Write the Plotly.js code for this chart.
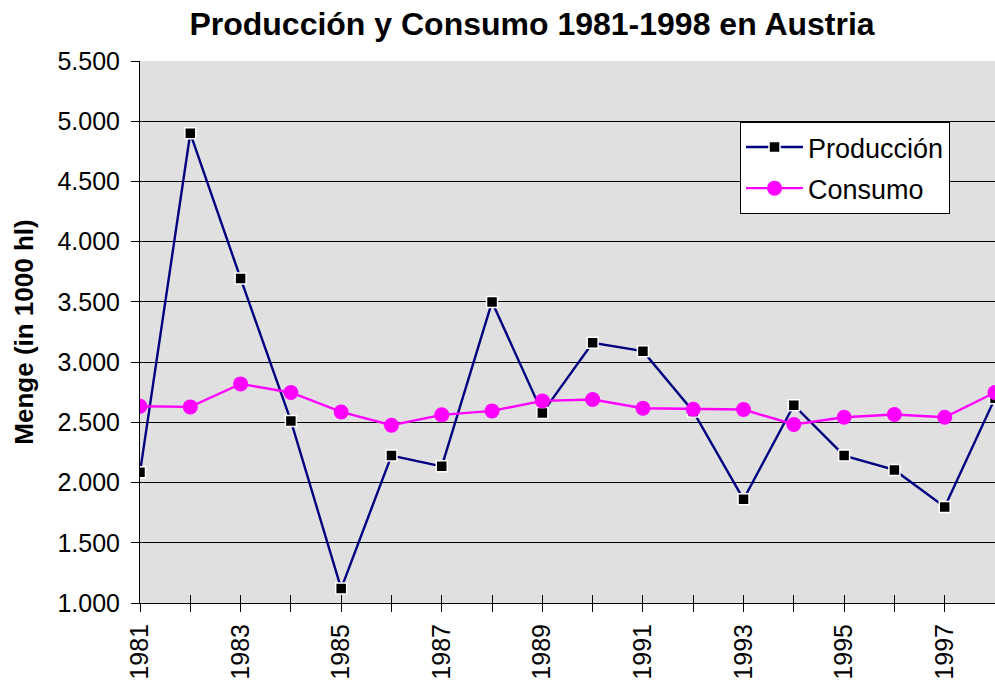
<!DOCTYPE html>
<html>
<head>
<meta charset="utf-8">
<script src="https://cdn.plot.ly/plotly-3.0.1.min.js"></script>
<style>html,body{margin:0;padding:0;background:#fff;}#chart{width:995px;height:682px;}</style>
</head>
<body>
<div id="chart"></div>
<script>
const years = [1981,1982,1983,1984,1985,1986,1987,1988,1989,1990,1991,1992,1993,1994,1995,1996,1997,1998];
const produccion = [2085,4900,3695,2512,1120,2224,2135,3500,2578,3160,3091,2590,1861,2642,2224,2105,1797,2700];
const consumo = [2634,2628,2819,2748,2586,2476,2562,2595,2678,2689,2617,2609,2606,2482,2542,2565,2542,2748];
const yTickVals = [1000,1500,2000,2500,3000,3500,4000,4500,5000,5500];
const yTickText = ['1.000','1.500','2.000','2.500','3.000','3.500','4.000','4.500','5.000','5.500'];
const xTickText = years.map((y,i) => i % 2 === 0 ? String(y) : '');

const font = 'Liberation Sans, Arial, sans-serif';
const traces = [
  {x: years, y: produccion, name: 'Producción', type: 'scatter', mode: 'lines+markers', legendgroup: 'a',
   line: {color: '#000080', width: 2.4},
   marker: {symbol: 'square', color: '#000000', size: 11, line: {color: '#ffffff', width: 1.5}}},
  {x: years, y: consumo, name: 'Consumo', type: 'scatter', mode: 'lines+markers', legendgroup: 'b',
   line: {color: '#ff00ff', width: 2.4},
   marker: {symbol: 'circle', color: '#ff00ff', size: 15}},
  {x: years, y: consumo, xaxis: 'x2', type: 'scatter', mode: 'none', showlegend: false, hoverinfo: 'skip'}
];
const layout = {
  width: 995, height: 682,
  margin: {l: 140, r: 0, t: 61, b: 79},
  paper_bgcolor: '#ffffff', plot_bgcolor: '#e0e0e0',
  font: {family: font, color: '#000'},
  title: {text: '<b>Producción y Consumo 1981-1998 en Austria</b>', font: {family: font, size: 32, color: '#000'},
          xref: 'paper', x: 0.4585, xanchor: 'center', yref: 'container', y: 0.965, yanchor: 'middle'},
  xaxis: {range: [1981, 1998], tickvals: years, ticktext: xTickText, tickangle: -90,
          ticks: 'outside', ticklen: 8, tickcolor: '#000', tickwidth: 1,
          showgrid: false, zeroline: false, showline: true, linecolor: '#000', linewidth: 1,
          tickfont: {family: font, size: 25, color: '#000'}, ticklabelstandoff: 2},
  xaxis2: {range: [1981, 1998], overlaying: 'x', tickvals: years, ticks: 'inside', ticklen: 8,
           tickcolor: '#000', showticklabels: false, showgrid: false, zeroline: false, showline: false},
  yaxis: {range: [1000, 5500], tickvals: yTickVals, ticktext: yTickText,
          ticks: 'outside', ticklen: 8, tickcolor: '#000', tickwidth: 1,
          showgrid: true, gridcolor: '#000', gridwidth: 1, zeroline: false,
          showline: true, linecolor: '#000', linewidth: 1, mirror: false,
          tickfont: {family: font, size: 25, color: '#000'}, ticklabelstandoff: 6,
          title: {text: '<b>Menge (in 1000 hl)</b>', font: {family: font, size: 26, color: '#000'}, standoff: 16}},
  legend: {x: 0.7018, y: 0.8875, xanchor: 'left', yanchor: 'top', bgcolor: '#ffffff',
           bordercolor: '#000', borderwidth: 1, itemwidth: 57, traceorder: 'grouped', tracegroupgap: 3,
           font: {family: font, size: 27, color: '#000'}},
  showlegend: true
};
Plotly.newPlot('chart', traces, layout, {displayModeBar: false, staticPlot: true});
</script>
</body>
</html>
